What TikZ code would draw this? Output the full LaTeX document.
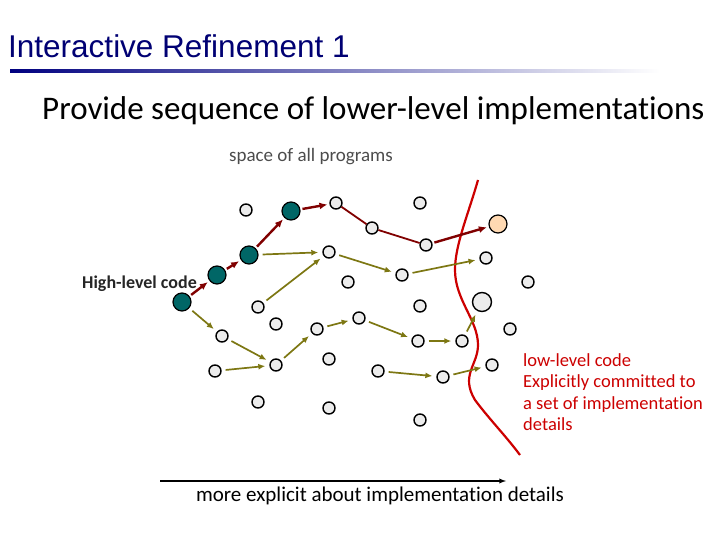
\documentclass[tikz,border=0pt]{standalone}
\usepackage{fontspec}
\usetikzlibrary{arrows.meta}
\setmainfont[Ligatures=NoCommon]{Carlito}
\newfontfamily\arialf{Liberation Sans}
\begin{document}
\begin{tikzpicture}[x=1pt,y=-1pt,
  pt/.style={circle,draw,fill=gray!15,line width=1.4pt,minimum size=12pt,inner sep=0pt},
  tl/.style={circle,draw,fill=teal!80!black,line width=1.2pt,minimum size=18pt,inner sep=0pt},
  ra/.style={-{Latex[length=8pt,width=7pt]},draw=red!50!black,line width=2.4pt,shorten >=2pt,shorten <=2pt},
  rl/.style={draw=red!50!black,line width=1.8pt},
  oa/.style={-{Latex[length=7pt,width=6pt]},draw=olive!85!black,line width=1.7pt,shorten >=4pt,shorten <=4pt}]
\useasboundingbox (0,0) rectangle (720,540);
\node[anchor=west,font=\arialf\fontsize{31.5}{34}\selectfont,text=blue!45!black,inner sep=0pt] (title) at (8,46) {Interactive Refinement 1};
\shade[left color=blue!50!black,right color=white] (10,70) rectangle (660,72.5);
\node[anchor=west,font=\fontsize{33}{36}\selectfont,inner sep=0pt] (sub) at (42,111) {Provide sequence of lower-level implementations};
\node[font=\fontsize{19}{22}\selectfont,text=black!70] (space) at (311,157) {space of all programs};
\foreach \n/\x/\y in {a/246/210,b/336/203,c/420/203,d/372/228,e/426/245,f/329/252,g/486/258,h/348/282,i/402/275,j/528/282,k/258/307,l/420/306,m/276/324,n/317/329,o/359/318,p/222/336,q/418/341,r/462/341,s/510/329,t/215/371,u/276/365,v/329/359,w/378/371,x/443/377,y/492/365,z/258/402,aa/329/408,ab/420/420}
  \node[pt] (\n) at (\x,\y) {};
\node[tl] (t1) at (182,302) {};
\node[tl] (t2) at (217,275) {};
\node[tl] (t3) at (249,255) {};
\node[tl] (t4) at (291,211) {};
\node[circle,draw,fill=orange!30,line width=1.2pt,minimum size=18pt,inner sep=0pt] (or) at (498,224) {};
\node[pt,minimum size=19pt] (big) at (482,302) {};
\draw[red!80!black,line width=2.2pt] (478,180) .. controls (468,215) and (455,245) .. (455,270) .. controls (455,300) and (478,320) .. (478,345) .. controls (478,365) and (460,375) .. (475,400) .. controls (490,420) and (505,435) .. (520,455);
\path[ra] (t1) -- (t2);
\path[ra] (t2) -- (t3);
\path[ra] (t3) -- (t4);
\path[ra] (t4) -- (b);
\path[rl] (b) -- (d);
\path[rl] (d) -- (e);
\path[ra] (e) -- (or);
\path[oa] (t3) -- (f);
\path[oa] (k) -- (f);
\path[oa] (f) -- (i);
\path[oa] (i) -- (g);
\path[oa] (t1) -- (p);
\path[oa] (p) -- (u);
\path[oa] (t) -- (u);
\path[oa] (u) -- (n);
\path[oa] (n) -- (o);
\path[oa] (o) -- (q);
\path[oa] (q) -- (r);
\path[oa] (r) -- (big);
\path[oa] (w) -- (x);
\path[oa] (x) -- (y);
\node[anchor=east,font=\bfseries\fontsize{18}{20}\selectfont,text=black!85,inner sep=0pt] (hl) at (197,284) {High-level code};
\node[anchor=north west,align=left,text=red!80!black,font=\fontsize{18.5}{21.5}\selectfont,inner sep=0pt] (ll) at (523,353) {low-level code\\Explicitly committed to\\a set of implementation\\details};
\coordinate (s0) at (160,481);
\coordinate (s1) at (506,481);
\draw[-latex,line width=1.3pt] (s0) -- (s1);
\node[font=\fontsize{21}{24}\selectfont] (bl) at (380,496) {more explicit about implementation details};
\end{tikzpicture}
\end{document}
